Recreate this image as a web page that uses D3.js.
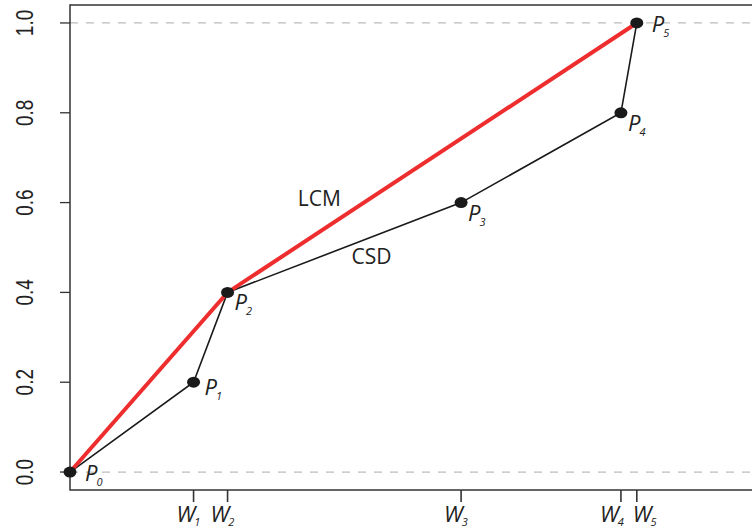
<!DOCTYPE html>
<html lang="en">
<head>
  <meta charset="UTF-8"/>
  <title>LCM and CSD</title>
  <script src="https://d3js.org/d3.v7.min.js"></script>
  <style>
    body { margin: 0; background: #fff; }
    svg { display: block; }
    .tick-y { font-family: 'Liberation Sans', Arial, sans-serif; fill: #222; }
    .lab { font-family: 'Open Sans', sans-serif; fill: #222; }
  </style>
</head>
<body>
  <svg width="752" height="532"></svg>
  <script>
  // cumulative weights (x) and cumulative sums (y)
  const pointNames = ['0', '1', '2', '3', '4', '5'];
  const xValues = [0, 0.218, 0.278, 0.690, 0.972, 1.0];
  const yValues = [0, 0.2, 0.4, 0.6, 0.8, 1.0];
  const lcmIndex = [0, 2, 5];
  const yTicks = [0, 0.2, 0.4, 0.6, 0.8, 1.0];
  const wTicks = ['1', '2', '3', '4', '5'];
  // where each P label sits: 'r' right, 'm' mid, 'b' below-right
  const labelPlace = ['r', 'm', 'b', 'b', 'b', 'r'];
  // nudges so the close W4 / W5 labels do not collide
  const wNudge = [0, 0, 0, -4, 13];

  const svg = d3.select('svg');
  const plotLeft = 70, plotTop = 5, plotBottom = 490, plotRight = 753;

  const x = d3.scaleLinear().domain([0, 1.205]).range([plotLeft, plotRight]);
  const y = d3.scaleLinear().domain([-0.04, 1.04]).range([plotBottom, plotTop]);

  // dashed reference lines at 0 and 1
  svg.selectAll('.ref')
    .data([0, 1])
    .enter().append('line')
    .attr('x1', plotLeft).attr('x2', plotRight)
    .attr('y1', d => y(d)).attr('y2', d => y(d))
    .attr('stroke', '#bdbdbd')
    .attr('stroke-width', 1.2)
    .attr('stroke-dasharray', '8,8');

  // box
  svg.append('rect')
    .attr('x', plotLeft).attr('y', plotTop)
    .attr('width', plotRight - plotLeft).attr('height', plotBottom - plotTop)
    .attr('fill', 'none')
    .attr('stroke', '#333')
    .attr('stroke-width', 1.5);

  // y axis
  const yAxis = svg.append('g');
  yAxis.selectAll('line')
    .data(yTicks)
    .enter().append('line')
    .attr('x1', plotLeft - 10).attr('x2', plotLeft)
    .attr('y1', d => y(d)).attr('y2', d => y(d))
    .attr('stroke', '#333').attr('stroke-width', 1.3);
  yAxis.selectAll('text')
    .data(yTicks)
    .enter().append('text')
    .attr('class', 'tick-y')
    .attr('transform', d => `translate(33, ${y(d)}) rotate(-90) scale(1, 1.3)`)
    .attr('text-anchor', 'middle')
    .attr('font-size', 19)
    .text(d => d.toFixed(1));

  // x ticks for weights W1..W5
  const xAxis = svg.append('g');
  xAxis.selectAll('line')
    .data(wTicks)
    .enter().append('line')
    .attr('x1', (d, i) => x(xValues[i + 1])).attr('x2', (d, i) => x(xValues[i + 1]))
    .attr('y1', plotBottom).attr('y2', plotBottom + 12)
    .attr('stroke', '#333').attr('stroke-width', 1.6);
  const wLab = xAxis.selectAll('text')
    .data(wTicks)
    .enter().append('text')
    .attr('class', 'lab')
    .attr('x', (d, i) => x(xValues[i + 1]) - 17 + wNudge[i])
    .attr('y', 522)
    .attr('font-size', 22)
    .attr('font-style', 'italic');
  wLab.append('tspan').text('W');
  wLab.append('tspan').attr('font-size', 11).attr('dy', 4).attr('dx', -1).text(d => d);

  const pts = xValues.map((v, i) => [x(v), y(yValues[i])]);
  const line = d3.line();

  // CSD (black)
  svg.append('path')
    .attr('d', line(pts))
    .attr('fill', 'none')
    .attr('stroke', '#1a1a1a')
    .attr('stroke-width', 1.6);

  // LCM (red)
  svg.append('path')
    .attr('d', line(lcmIndex.map(i => pts[i])))
    .attr('fill', 'none')
    .attr('stroke', '#ee2e2e')
    .attr('stroke-width', 4);

  svg.selectAll('.pt')
    .data(pts)
    .enter().append('ellipse')
    .attr('cx', d => d[0]).attr('cy', d => d[1])
    .attr('rx', 6.5).attr('ry', 5.5)
    .attr('fill', '#1a1a1a');

  const off = { r: [15, 9], m: [11, 13], b: [7, 18] };
  const pLab = svg.selectAll('.plab')
    .data(pointNames)
    .enter().append('text')
    .attr('class', 'lab')
    .attr('x', (d, i) => pts[i][0] + off[labelPlace[i]][0])
    .attr('y', (d, i) => pts[i][1] + off[labelPlace[i]][1])
    .attr('font-size', 22)
    .attr('font-style', 'italic');
  pLab.append('tspan').text('P');
  pLab.append('tspan').attr('font-size', 11).attr('dy', 5).attr('dx', -1).text(d => d);

  // curve names
  svg.append('text')
    .attr('class', 'lab')
    .attr('x', x(0.44)).attr('y', y(0.61) + 8)
    .attr('text-anchor', 'middle')
    .attr('font-size', 21)
    .text('LCM');
  svg.append('text')
    .attr('class', 'lab')
    .attr('x', x(0.532)).attr('y', y(0.48) + 8)
    .attr('text-anchor', 'middle')
    .attr('font-size', 21)
    .text('CSD');
  </script>
</body>
</html>
